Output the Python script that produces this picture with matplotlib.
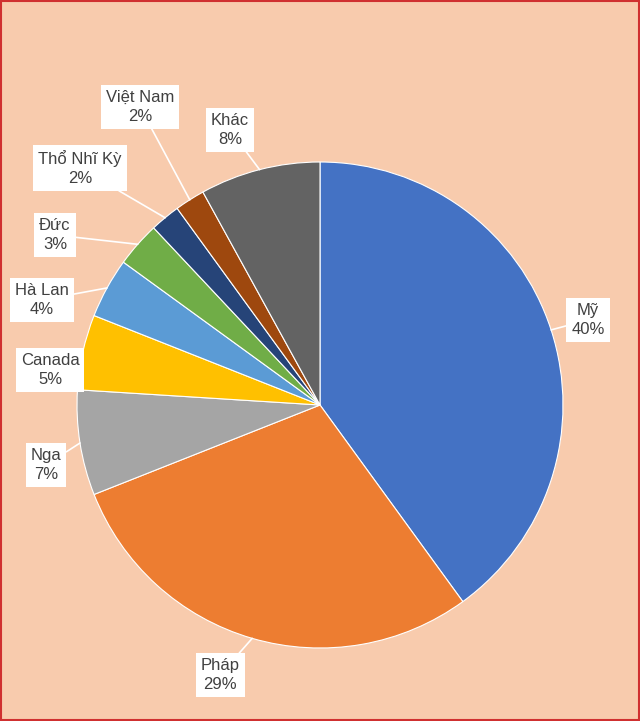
import numpy as np
import matplotlib.pyplot as plt

countries = ["Mỹ", "Pháp", "Nga", "Canada", "Hà Lan", "Đức", "Thổ Nhĩ Kỳ", "Việt Nam", "Khác"]
shares = [40, 29, 7, 5, 4, 3, 2, 2, 8]
colors = ["#4472C4", "#ED7D31", "#A5A5A5", "#FFC000", "#5B9BD5",
          "#70AD47", "#264478", "#9E480E", "#636363"]

# label box positions (pixel layout, y measured from bottom)
label_pos = [(588, 401), (220, 46), (46, 256), (50, 351), (42, 421),
             (55, 486), (80, 553), (140, 614), (230, 591)]

plt.rcParams["font.family"] = ["Liberation Sans", "DejaVu Sans"]
fig = plt.figure(figsize=(6.4, 7.21), dpi=100, facecolor="#F8CBAD")
ax = fig.add_axes([0, 0, 1, 1])
ax.set_xlim(0, 640)
ax.set_ylim(0, 721)
ax.set_aspect("equal")
ax.axis("off")

cx, cy, r = 320, 316, 243
wedges, _ = ax.pie(shares, colors=colors, startangle=90, counterclock=False,
                   center=(cx, cy), radius=r, frame=True,
                   wedgeprops=dict(edgecolor="white", linewidth=0.8))
ax.set_xlim(0, 640)
ax.set_ylim(0, 721)
ax.axis("off")

for w, name, val, (lx, ly) in zip(wedges, countries, shares, label_pos):
    mid = np.deg2rad((w.theta1 + w.theta2) / 2)
    ex, ey = cx + r * np.cos(mid), cy + r * np.sin(mid)
    ax.annotate(f"{name}\n{val}%", xy=(ex, ey), xytext=(lx, ly),
                ha="center", va="center", fontsize=12, color="#404040",
                linespacing=1.3,
                bbox=dict(boxstyle="square,pad=0.3", fc="white", ec="none"),
                arrowprops=dict(arrowstyle="-", color="white", lw=1.2,
                                shrinkA=0, shrinkB=0))

border = plt.Rectangle((1, 1), 638, 719, fill=False, ec="#D03030", lw=1.5)
ax.add_patch(border)
fig.savefig("out.png", dpi=100, facecolor=fig.get_facecolor())
